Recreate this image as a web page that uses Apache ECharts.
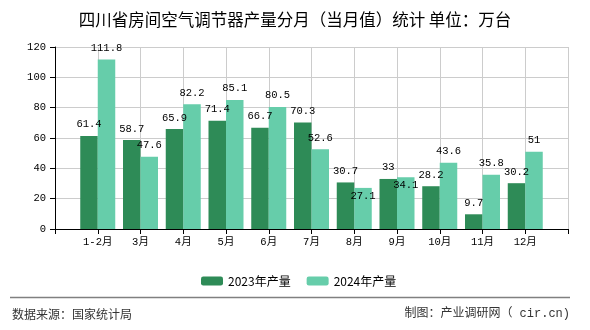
<!DOCTYPE html>
<html>
<head>
<meta charset="utf-8">
<script src="https://cdn.jsdelivr.net/npm/echarts@6/dist/echarts.min.js"></script>
<style>html,body{margin:0;padding:0;background:#fff;}#c{width:590px;height:330px;}</style>
</head>
<body>
<div id="c"></div>
<script>
var titleText = '四川省房间空气调节器产量分月（当月值）统计 单位：万台';
var categories = ['1-2月','3月','4月','5月','6月','7月','8月','9月','10月','11月','12月'];
var seriesNames = ['2023年产量','2024年产量'];
var values2023 = [61.4, 58.7, 65.9, 71.4, 66.7, 70.3, 30.7, 33, 28.2, 9.7, 30.2];
var values2024 = [111.8, 47.6, 82.2, 85.1, 80.5, 52.6, 27.1, 34.1, 43.6, 35.8, 51];
var yTicks = [0, 20, 40, 60, 80, 100, 120];
var sourceText = '数据来源：国家统计局';
var creditText = '制图：产业调研网（ cir.cn)';
// labels that the original moved below the bar top to avoid overlap (index in 2024 series)
var lowered2024 = [6, 7];

var numFont = "'Liberation Mono', 'Noto Sans CJK SC', monospace";
var cjkFont = "'Noto Sans CJK SC', sans-serif";

// padded category axis: empty slot before and after
var axisCats = [''].concat(categories).concat(['']);
function pad(arr, fn) {
  var out = [null];
  arr.forEach(function (v, i) { out.push(fn ? fn(v, i) : v); });
  out.push(null);
  return out;
}

var chart = echarts.init(document.getElementById('c'), null, {renderer: 'canvas'});
chart.setOption({
  animation: false,
  backgroundColor: '#fff',
  title: {
    text: titleText,
    left: 'center',
    top: 6,
    textStyle: {fontFamily: cjkFont, fontSize: 16.5, fontWeight: 'normal', color: '#000'}
  },
  legend: {
    data: seriesNames,
    left: 196,
    top: 270,
    itemWidth: 22,
    itemHeight: 9,
    itemGap: 16,
    textStyle: {fontFamily: cjkFont, fontSize: 12, color: '#000'}
  },
  grid: {left: 55, right: 22, top: 47, bottom: 101},
  xAxis: {
    type: 'category',
    data: axisCats,
    boundaryGap: false,
    axisLine: {lineStyle: {color: '#000', width: 1}},
    axisTick: {show: true, length: 5, lineStyle: {color: '#000'}},
    axisLabel: {fontFamily: numFont, fontSize: 10.5, color: '#000', margin: 8, interval: 0},
    splitLine: {show: true, lineStyle: {color: '#cccccc', width: 1}}
  },
  yAxis: {
    type: 'value',
    min: yTicks[0],
    max: yTicks[yTicks.length - 1],
    interval: 20,
    axisLine: {show: true, lineStyle: {color: '#000', width: 1}},
    axisTick: {show: true, length: 5, lineStyle: {color: '#000'}},
    axisLabel: {fontFamily: numFont, fontSize: 10.5, color: '#000', margin: 9},
    splitLine: {show: true, lineStyle: {color: '#cccccc', width: 1}}
  },
  series: [
    {
      name: seriesNames[0],
      type: 'bar',
      data: pad(values2023),
      barWidth: 17.5,
      barGap: '0%',
      itemStyle: {color: '#2e8b57'},
      label: {show: true, position: 'top', distance: 6, fontFamily: numFont, fontSize: 10.5, color: '#000'}
    },
    {
      name: seriesNames[1],
      type: 'bar',
      data: pad(values2024, function (v, i) {
        if (lowered2024.indexOf(i) >= 0) {
          return {value: v, label: {position: 'insideTop', distance: 3}};
        }
        return v;
      }),
      barWidth: 17.5,
      barGap: '0%',
      itemStyle: {color: '#66cdaa'},
      label: {show: true, position: 'top', distance: 6, fontFamily: numFont, fontSize: 10.5, color: '#000'}
    }
  ],
  graphic: [
    {type: 'line', shape: {x1: 10, y1: 297.5, x2: 570, y2: 297.5}, style: {stroke: '#808080', lineWidth: 1.5}},
    {type: 'text', left: 12, top: 308, style: {text: sourceText, fontFamily: cjkFont, fontSize: 12, fill: '#333'}},
    {type: 'text', right: 20, top: 308, style: {text: creditText, fontFamily: numFont, fontSize: 12, fill: '#333'}}
  ]
});
</script>
</body>
</html>
